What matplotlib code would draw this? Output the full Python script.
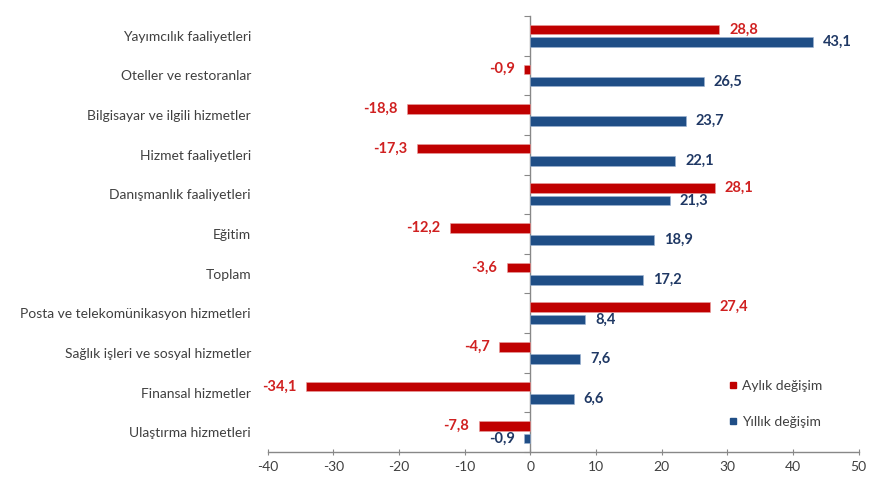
import matplotlib
matplotlib.use("Agg")
import matplotlib.pyplot as plt
from matplotlib.lines import Line2D
import numpy as np

plt.rcParams['font.family'] = ['Lato', 'DejaVu Sans']

categories = [
    "Yayımcılık faaliyetleri",
    "Oteller ve restoranlar",
    "Bilgisayar ve ilgili hizmetler",
    "Hizmet faaliyetleri",
    "Danışmanlık faaliyetleri",
    "Eğitim",
    "Toplam",
    "Posta ve telekomünikasyon hizmetleri",
    "Sağlık işleri ve sosyal hizmetler",
    "Finansal hizmetler",
    "Ulaştırma hizmetleri",
]
aylik = [28.8, -0.9, -18.8, -17.3, 28.1, -12.2, -3.6, 27.4, -4.7, -34.1, -7.8]
yillik = [43.1, 26.5, 23.7, 22.1, 21.3, 18.9, 17.2, 8.4, 7.6, 6.6, -0.9]
xticks = [-40, -30, -20, -10, 0, 10, 20, 30, 40, 50]
series_names = ["Aylık değişim", "Yıllık değişim"]

red = "#C00000"
blue = "#1F4E86"

fig = plt.figure(figsize=(8.69, 4.83), dpi=100)
ax = fig.add_axes([0.308, 0.064, 0.680, 0.903])

n = len(categories)
y = np.arange(n)
h = 0.24
off = 0.155
ax.barh(y - off, aylik, height=h, color=red, edgecolor="#E8A0A0", linewidth=0.4)
ax.barh(y + off, yillik, height=h, color=blue, edgecolor="#9DB4D3", linewidth=0.4)

ax.set_xlim(xticks[0], xticks[-1])
ax.set_ylim(n - 0.5, -0.5)

def fmt(v):
    return f"{v:.1f}".replace(".", ",")

for yi, v in zip(y, aylik):
    side = 1 if v >= 0 else -1
    ax.annotate(fmt(v), (v, yi - off), xytext=(7 * side, 0), textcoords="offset points",
                ha="left" if side > 0 else "right", va="center", color="#D02020",
                fontsize=10.5, fontweight="bold")
for yi, v in zip(y, yillik):
    side = 1 if v >= 0 else -1
    ax.annotate(fmt(v), (v, yi + off), xytext=(7 * side, 0), textcoords="offset points",
                ha="left" if side > 0 else "right", va="center", color="#1F3864",
                fontsize=10.5, fontweight="bold")

# category labels on the left
ax.set_yticks(y)
ax.set_yticklabels(categories, fontsize=10, color="#404040")
ax.tick_params(axis="y", length=0, pad=12)

# x axis
ax.set_xticks(xticks)
ax.set_xticklabels([str(t) for t in xticks], fontsize=10, color="#404040")
ax.tick_params(axis="x", direction="inout", length=5, color="#888888", pad=4)

for s in ["top", "right", "left"]:
    ax.spines[s].set_visible(False)
ax.spines["bottom"].set_color("#888888")
ax.spines["bottom"].set_linewidth(1.0)

# vertical axis at zero with tick marks between categories
zero_frac = (0 - xticks[0]) / (xticks[-1] - xticks[0])
sec = ax.secondary_yaxis(zero_frac)
sec.set_yticks(np.arange(-0.5, n, 1.0))
sec.set_yticklabels([])
sec.tick_params(axis="y", direction="out", length=4, color="#888888")
sec.spines["left"].set_color("#888888")
sec.spines["left"].set_linewidth(1.0)

handles = [
    Line2D([], [], marker="s", linestyle="none", color=red, markersize=4.5),
    Line2D([], [], marker="s", linestyle="none", color=blue, markersize=4.5),
]
ax.legend(handles, series_names, loc="center left", bbox_to_anchor=(0.755, 0.11),
          frameon=False, fontsize=10, labelspacing=1.75, handletextpad=0.1,
          handlelength=1.0, labelcolor="#404040")

fig.savefig("out.png", dpi=100, facecolor="white")
